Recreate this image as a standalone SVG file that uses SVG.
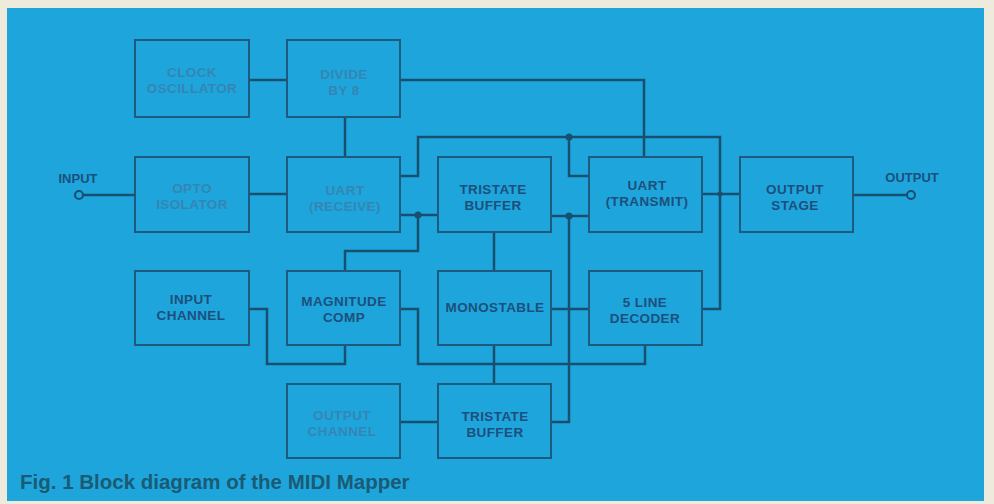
<svg xmlns="http://www.w3.org/2000/svg" width="994" height="504" viewBox="0 0 994 504">
<style>
.box{fill:none;stroke:#1d5a7e;stroke-width:2}
.t{font-family:"Liberation Sans",Arial,sans-serif;font-weight:bold;font-size:13.5px;letter-spacing:0.4px;text-anchor:middle;fill:#1d4f7d}
.f{fill:#3585b4}
.w{fill:none;stroke:#174f70;stroke-width:2.5;stroke-linejoin:miter}
.dot{fill:#174f70}
.term{fill:none;stroke:#174f70;stroke-width:2}
</style>
<rect x="0" y="0" width="994" height="504" fill="#efebdc"/>
<rect x="7" y="8" width="977" height="493" fill="#1ea6dc"/>
<g id="connectors">
<path class="w" d="M249 80H287"/>
<path class="w" d="M400 80H644V157"/>
<path class="w" d="M345 117V157"/>
<path class="w" d="M83 195H135"/>
<path class="w" d="M249 194H287"/>
<path class="w" d="M400 176H418V137H720V309H702"/>
<path class="w" d="M569 137V176H589"/>
<path class="w" d="M400 215H438"/>
<path class="w" d="M418 215V251H345V271"/>
<path class="w" d="M551 216H589"/>
<path class="w" d="M569 216V422H551"/>
<path class="w" d="M494 232V271"/>
<path class="w" d="M249 309H267V364H345V345"/>
<path class="w" d="M400 309H418V364H645V345"/>
<path class="w" d="M494 345V384"/>
<path class="w" d="M551 309H589"/>
<path class="w" d="M400 422H438"/>
<path class="w" d="M702 194H740"/>
<path class="w" d="M853 195H907"/>
<circle class="dot" cx="418" cy="215" r="3.5"/>
<circle class="dot" cx="569" cy="137" r="3.5"/>
<circle class="dot" cx="569" cy="216" r="3.5"/>
<circle class="dot" cx="720" cy="194" r="2.5"/>
</g>
<g id="input">
<circle class="term" cx="79" cy="195" r="4"/>
<text class="t" x="78" y="183" style="font-size:13px;letter-spacing:0">INPUT</text>
</g>
<g id="output">
<circle class="term" cx="911" cy="195" r="4"/>
<text class="t" x="912" y="182" style="font-size:13px;letter-spacing:0">OUTPUT</text>
</g>
<g id="clock">
<rect class="box" x="135" y="40" width="114" height="77"/>
<text class="t f" x="192" y="76.5">CLOCK</text>
<text class="t f" x="192" y="92.5">OSCILLATOR</text>
</g>
<g id="divide">
<rect class="box" x="287" y="40" width="113" height="77"/>
<text class="t f" x="344" y="78.5">DIVIDE</text>
<text class="t f" x="344" y="94.5">BY 8</text>
</g>
<g id="opto">
<rect class="box" x="135" y="157" width="114" height="75"/>
<text class="t f" x="192" y="193">OPTO</text>
<text class="t f" x="192" y="209">ISOLATOR</text>
</g>
<g id="uart-rx">
<rect class="box" x="287" y="157" width="113" height="75"/>
<text class="t f" x="345" y="194.5">UART</text>
<text class="t f" x="345" y="210.5">(RECEIVE)</text>
</g>
<g id="tristate1">
<rect class="box" x="438" y="157" width="113" height="75"/>
<text class="t" x="493" y="193.5">TRISTATE</text>
<text class="t" x="493" y="209.5">BUFFER</text>
</g>
<g id="uart-tx">
<rect class="box" x="589" y="157" width="113" height="75"/>
<text class="t" x="647" y="189.5">UART</text>
<text class="t" x="647" y="205.5">(TRANSMIT)</text>
</g>
<g id="output-stage">
<rect class="box" x="740" y="157" width="113" height="75"/>
<text class="t" x="795" y="193.5">OUTPUT</text>
<text class="t" x="795" y="209.5">STAGE</text>
</g>
<g id="input-channel">
<rect class="box" x="135" y="271" width="114" height="74"/>
<text class="t" x="191" y="303.5">INPUT</text>
<text class="t" x="191" y="319.5">CHANNEL</text>
</g>
<g id="magnitude">
<rect class="box" x="287" y="271" width="113" height="74"/>
<text class="t" x="344" y="306">MAGNITUDE</text>
<text class="t" x="344" y="322">COMP</text>
</g>
<g id="monostable">
<rect class="box" x="438" y="271" width="113" height="74"/>
<text class="t" x="495" y="312">MONOSTABLE</text>
</g>
<g id="decoder">
<rect class="box" x="589" y="271" width="113" height="74"/>
<text class="t" x="645" y="307">5 LINE</text>
<text class="t" x="645" y="323">DECODER</text>
</g>
<g id="output-channel">
<rect class="box" x="287" y="384" width="113" height="74"/>
<text class="t f" x="342" y="419.5">OUTPUT</text>
<text class="t f" x="342" y="435.5">CHANNEL</text>
</g>
<g id="tristate2">
<rect class="box" x="438" y="384" width="113" height="74"/>
<text class="t" x="495" y="420.5">TRISTATE</text>
<text class="t" x="495" y="436.5">BUFFER</text>
</g>
<text x="20" y="489" style="font-family:'Liberation Sans',Arial,sans-serif;font-weight:bold;font-size:20.5px;fill:#1b5a74">Fig. 1 Block diagram of the MIDI Mapper</text>
</svg>
